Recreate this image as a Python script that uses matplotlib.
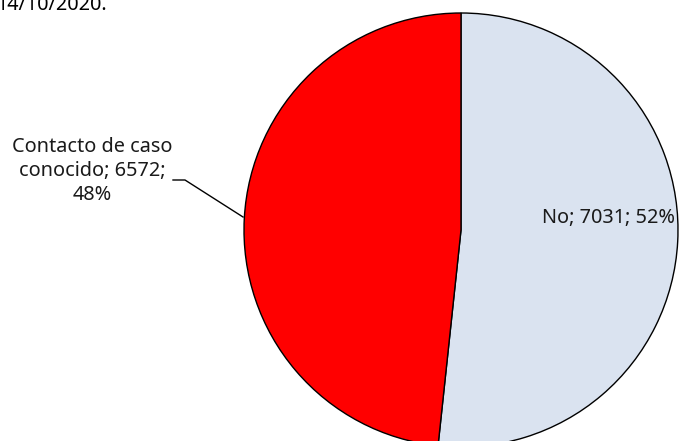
import matplotlib
matplotlib.use("Agg")
import matplotlib.pyplot as plt

labels = ["No", "Contacto de caso\nconocido"]
values = [7031, 6572]
percents = [52, 48]
colors = ["#DAE3F0", "#FF0000"]
title_tail = "14/10/2020."

W, H = 679, 441
fig = plt.figure(figsize=(W / 100, H / 100), dpi=100)
ax = fig.add_axes([0, 0, 1, 1])
R = 217.0
cx, cy = 461.0, 230.0
ax.axis("off")

ax.pie(values, colors=colors, startangle=90, counterclock=False, radius=1.0,
       wedgeprops=dict(edgecolor="black", linewidth=1.0))
ax.set_xlim(-cx / R, (W - cx) / R)
ax.set_ylim(-(H - cy) / R, cy / R)
ax.set_aspect("auto")

font = "Noto Sans"
def px(x, y):
    return ((x - cx) / R, (cy - y) / R)

ax.text(*px(609, 218), f"{labels[0]}; {values[0]}; {percents[0]}%", ha="center", va="center",
        fontsize=14.3, family=font, color="#1a1a1a")
ax.text(*px(92, 171), f"{labels[1]}; {values[1]};\n{percents[1]}%", ha="center", va="center",
        fontsize=14.3, family=font, color="#1a1a1a", linespacing=1.27)
xs, ys = zip(px(173, 180), px(185, 180), px(243, 217))
ax.plot(xs, ys, color="black", linewidth=1.0)

fig.text(-4 / W, 1 - 10 / H, title_tail, ha="left", va="baseline", fontsize=14.3,
         family=font, color="black")

fig.savefig("out.png", dpi=100)
